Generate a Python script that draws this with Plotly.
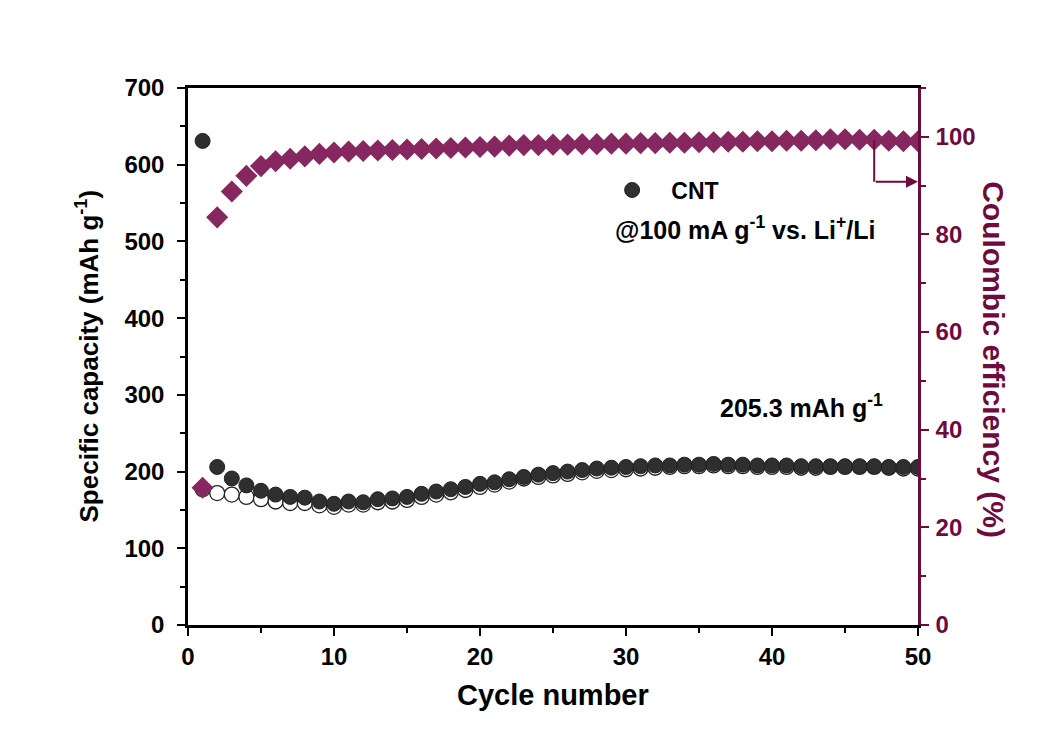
import plotly.graph_objects as go

cycles = list(range(1, 51))
discharge = [631, 206, 191, 182, 175, 170, 167, 166, 161, 158,
             161, 160, 164, 165, 167, 171, 174, 177, 180, 184,
             186, 190, 193, 196, 198, 200, 202, 204, 205, 206,
             207, 208, 208, 209, 209, 210, 209, 209, 208, 208,
             208, 207, 207, 207, 207, 207, 207, 206, 206, 206]
charge = [177, 172, 170, 167, 164, 161, 159, 159, 156, 154,
          157, 157, 160, 161, 163, 167, 170, 173, 176, 180,
          183, 187, 191, 193, 195, 197, 199, 201, 202, 203,
          204, 205, 206, 207, 207, 208, 207, 207, 206, 206,
          206, 205, 205, 206, 206, 206, 206, 205, 204, 204]
ce = [28.1, 83.5, 88.8, 92.0, 94.0, 95.0, 95.5, 96.0, 96.5, 96.8,
      97.0, 97.1, 97.2, 97.3, 97.4, 97.5, 97.6, 97.7, 97.8, 97.9,
      98.0, 98.2, 98.3, 98.3, 98.4, 98.4, 98.5, 98.5, 98.6, 98.6,
      98.7, 98.7, 98.8, 98.8, 98.9, 98.9, 99.0, 99.0, 99.1, 99.1,
      99.2, 99.2, 99.3, 99.5, 99.5, 99.4, 99.4, 99.2, 99.1, 99.1]

x_ticks = [0, 10, 20, 30, 40, 50]
y_ticks = [0, 100, 200, 300, 400, 500, 600, 700]
y2_ticks = [0, 20, 40, 60, 80, 100]

MAROON = "#6e0b3e"
DIAMOND = "#86285f"
DARK = "#2f2f2f"
FONT = "Liberation Sans"

fig = go.Figure()
fig.add_trace(go.Scatter(x=cycles, y=charge, mode="markers", showlegend=False,
                         marker=dict(symbol="circle", size=15, color="white",
                                     line=dict(color="#222", width=1.3))))
fig.add_trace(go.Scatter(x=cycles, y=discharge, mode="markers", name="\u00a0\u00a0\u00a0CNT",
                         marker=dict(symbol="circle", size=15, color=DARK,
                                     line=dict(color="#222", width=1))))
fig.add_trace(go.Scatter(x=cycles, y=ce, mode="markers", yaxis="y2", showlegend=False,
                         marker=dict(symbol="diamond", size=17, color=DIAMOND,
                                     line=dict(width=0))))

fig.update_layout(
    width=1035, height=737,
    margin=dict(l=180, r=125, t=80, b=120),
    paper_bgcolor="white", plot_bgcolor="white",
    font=dict(family=FONT),
    xaxis=dict(range=[0, 50], tickvals=x_ticks, ticks="outside", ticklen=8, tickwidth=2,
               minor=dict(dtick=5, tick0=0, ticks="outside", ticklen=5, tickwidth=2, tickcolor="black"),
               showline=True, linecolor="black", linewidth=2.5, mirror=True,
               showgrid=False, zeroline=False, tickcolor="black",
               tickfont=dict(family=FONT, size=24, color="black", weight="bold")),
    yaxis=dict(range=[0, 700], tickvals=y_ticks, ticks="outside", ticklen=8, tickwidth=2,
               minor=dict(dtick=50, tick0=0, ticks="outside", ticklen=5, tickwidth=2, tickcolor="black"),
               showline=True, linecolor="black", linewidth=2.5,
               showgrid=False, zeroline=False, tickcolor="black", ticklabelstandoff=8,
               tickfont=dict(family=FONT, size=24, color="black", weight="bold")),
    yaxis2=dict(range=[0, 110], tickvals=y2_ticks, overlaying="y", side="right",
                ticks="outside", ticklen=8, tickwidth=2, tickcolor=MAROON,
                minor=dict(dtick=10, tick0=0, ticks="outside", ticklen=5, tickwidth=2, tickcolor=MAROON),
                showline=True, linecolor=MAROON, linewidth=2.5,
                showgrid=False, zeroline=False, ticklabelstandoff=2,
                tickfont=dict(family=FONT, size=24, color=MAROON, weight="bold")),
    legend=dict(x=0.581, y=0.81, xanchor="left", yanchor="middle",
                bgcolor="rgba(0,0,0,0)",
                font=dict(family=FONT, size=23, color="black", weight="bold")),
)

fig.add_annotation(text="<b>Cycle number</b>", xref="paper", yref="paper",
                   x=0.5, y=0, yshift=-70, xanchor="center", yanchor="middle", showarrow=False,
                   font=dict(family=FONT, size=29, color="black"))
fig.add_annotation(text="<b>Specific capacity (mAh g<sup>-1</sup>)</b>", xref="paper", yref="paper",
                   x=0, xshift=-100, y=0.5, textangle=-90, xanchor="center", yanchor="middle",
                   showarrow=False, font=dict(family=FONT, size=26, color="black"))
fig.add_annotation(text="<b>Coulombic efficiency (%)</b>", xref="paper", yref="paper",
                   x=1.0, xshift=76, y=0.495, textangle=90, xanchor="center", yanchor="middle",
                   showarrow=False, font=dict(family=FONT, size=30, color=MAROON))
fig.add_annotation(text="<b>@100 mA g<sup>-1</sup> vs. Li<sup>+</sup>/Li</b>", xref="paper", yref="paper",
                   x=0.582, y=0.739, xanchor="left", yanchor="middle", showarrow=False,
                   font=dict(family=FONT, size=25, color="black"))
fig.add_annotation(text="<b>205.3 mAh g<sup>-1</sup></b>", xref="paper", yref="paper",
                   x=0.726, y=0.408, xanchor="left", yanchor="middle", showarrow=False,
                   font=dict(family=FONT, size=25, color="black"))

# arrow pointing to right axis
fig.add_shape(type="line", xref="x", yref="y2", x0=47, x1=47, y0=ce[46], y1=90.8,
              line=dict(color=MAROON, width=2))
fig.add_annotation(x=50, y=90.8, xref="x", yref="y2", ax=47, ay=90.8, axref="x", ayref="y2",
                   showarrow=True, arrowhead=2, arrowsize=1.2, arrowwidth=2, arrowcolor=MAROON,
                   text="")

fig.write_html("out.html")
